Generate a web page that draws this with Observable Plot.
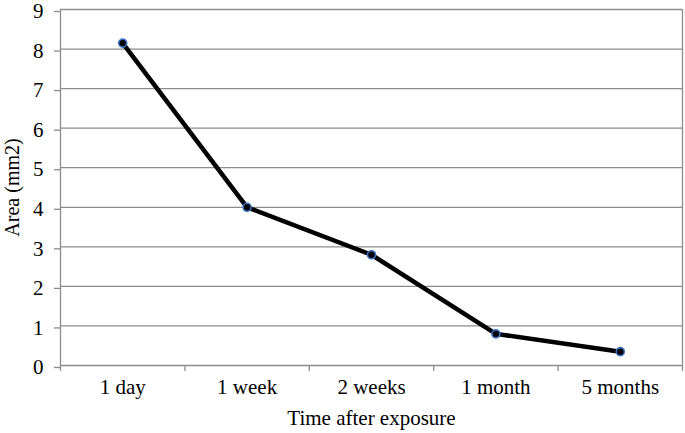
<!DOCTYPE html>
<html><head><meta charset="utf-8">
<script src="https://cdn.jsdelivr.net/npm/d3@7"></script>
<script src="https://cdn.jsdelivr.net/npm/@observablehq/plot@0.6"></script>
<style>html,body{margin:0;padding:0;background:#fff;}</style>
</head><body><div id="chart"></div>
<script>
const categories = ["1 day", "1 week", "2 weeks", "1 month", "5 months"];
const values = [8.15, 4.0, 2.8, 0.8, 0.35];
const yTicks = [0, 1, 2, 3, 4, 5, 6, 7, 8, 9];

const data = categories.map((c, i) => ({i, c, v: values[i]}));
const idx = categories.map((c, i) => i);
const edges = [-0.5, ...idx.map(i => i + 0.5)];
const grid = "#8c8c8c";

const chart = Plot.plot({
  width: 685, height: 433,
  marginLeft: 60, marginRight: 3, marginTop: 9, marginBottom: 68,
  style: {fontFamily: "'Liberation Serif', 'Times New Roman', serif", fontSize: "21px", color: "#000", background: "#fff"},
  x: {type: "linear", domain: [-0.5, categories.length - 0.5]},
  y: {domain: [0, 9]},
  marks: [
    Plot.ruleY(yTicks, {y: d => d, stroke: grid, strokeWidth: 1.3}),
    Plot.ruleX([edges[0], edges[edges.length - 1]], {x: d => d, stroke: grid, strokeWidth: 1.3}),
    Plot.axisY({ticks: yTicks, tickSize: 6, tickPadding: 11, dy: 2, stroke: grid, strokeWidth: 1.3, strokeOpacity: 1,
      label: null, fontSize: 21}),
    Plot.axisY({ticks: [], label: "Area (mm2)", labelAnchor: "center", labelArrow: "none", labelOffset: 56, fontSize: 20}),
    Plot.axisX({ticks: edges, tickSize: 6, tickFormat: () => "", stroke: grid, strokeWidth: 1.3, strokeOpacity: 1, label: null}),
    Plot.axisX({ticks: idx, tickSize: 0, tickPadding: 14, tickFormat: i => categories[i],
      label: "Time after exposure", labelAnchor: "center", labelArrow: "none", labelOffset: 59, fontSize: 21}),
    Plot.line(data, {x: "i", y: "v", stroke: "#000", strokeWidth: 4.5}),
    Plot.dot(data, {x: "i", y: "v", r: 4, fill: "#000", stroke: "#3d73c4", strokeWidth: 1.6})
  ]
});
document.getElementById("chart").appendChild(chart);
</script>
</body></html>
